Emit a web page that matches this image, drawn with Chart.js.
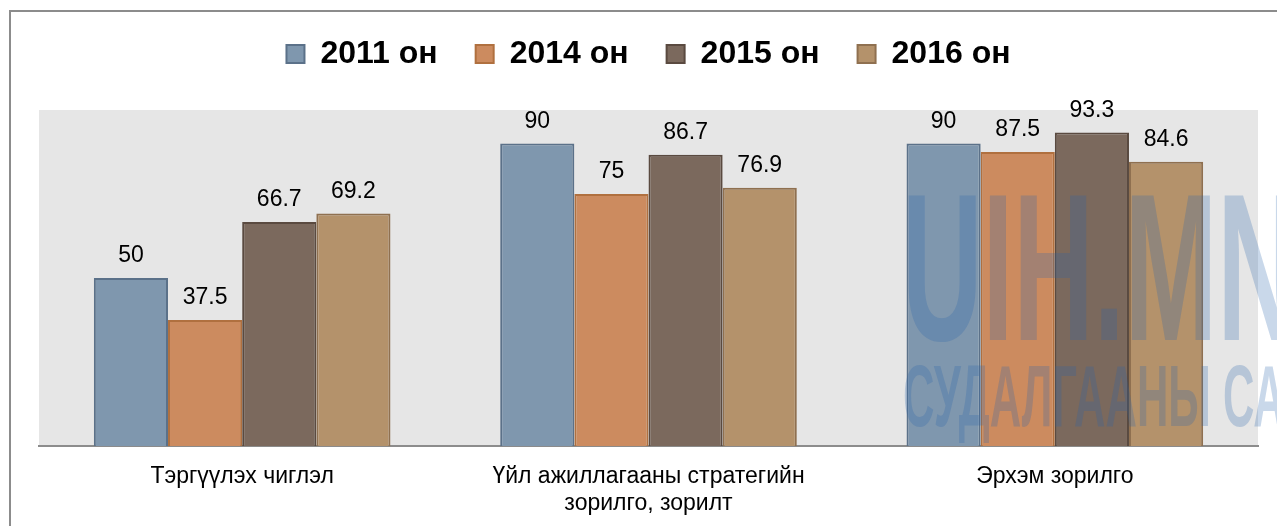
<!DOCTYPE html>
<html>
<head>
<meta charset="utf-8">
<script src="https://cdn.jsdelivr.net/npm/chart.js@4.4.1/dist/chart.umd.min.js"></script>
<style>
  html, body { margin: 0; padding: 0; background: #fff; overflow: hidden; }
  #wrap { position: relative; width: 1277px; height: 526px; }
  #frame { position: absolute; left: 9px; top: 10px; width: 1300px; height: 600px;
    border-left: 2px solid #8c8c8c; border-top: 2px solid #8c8c8c; pointer-events: none; }
  .wm { position: absolute; font-family: 'Liberation Sans', Arial, sans-serif; font-weight: bold;
    color: rgba(40, 100, 170, 0.25); white-space: nowrap; transform-origin: 0 0; line-height: 1; pointer-events: none; }
</style>
</head>
<body>
<div id="wrap">
  <canvas id="chart" width="1277" height="526"></canvas>
  <div id="frame"></div>
  <div class="wm" style="left:902px;top:163px;font-size:210px;transform:scaleX(0.53);">UIH.MN</div>
  <div class="wm" style="left:903px;top:352px;font-size:87px;transform:scaleX(0.5);">СУДАЛГААНЫ СА</div>
</div>
<script>
// ангилал, цуваа, утгууд
var categories = ['Тэргүүлэх чиглэл', ['Үйл ажиллагааны стратегийн', 'зорилго, зорилт'], 'Эрхэм зорилго'];
var seriesNames = ['2011 он', '2014 он', '2015 он', '2016 он'];
var values2011 = [50, 90, 90];
var values2014 = [37.5, 75, 87.5];
var values2015 = [66.7, 86.7, 93.3];
var values2016 = [69.2, 76.9, 84.6];

var fillColors = ['#7f97ae', '#cc8b5f', '#7b695d', '#b4926b'];
var lineColors = ['#5b7189', '#b0703f', '#5a4a40', '#8f7050'];

(function() {
  Chart.defaults.font.family = "'Liberation Sans', Arial, sans-serif";

  var plotBg = {
    id: 'plotBg',
    beforeDraw: function(chart) {
      var a = chart.chartArea, ctx = chart.ctx;
      ctx.save();
      ctx.fillStyle = '#e6e6e6';
      ctx.fillRect(a.left, a.top, a.right - a.left, a.bottom - a.top);
      ctx.restore();
    }
  };

  var valueLabels = {
    id: 'valueLabels',
    afterDatasetsDraw: function(chart) {
      var ctx = chart.ctx;
      ctx.save();
      ctx.font = "23px 'Liberation Sans', Arial, sans-serif";
      ctx.fillStyle = '#000';
      ctx.textAlign = 'center';
      ctx.textBaseline = 'alphabetic';
      chart.data.datasets.forEach(function(ds, i) {
        chart.getDatasetMeta(i).data.forEach(function(bar, j) {
          ctx.fillText(String(ds.data[j]), bar.x, bar.y - 16);
        });
      });
      ctx.restore();
    }
  };

  var allValues = [values2011, values2014, values2015, values2016];
  var datasets = seriesNames.map(function(name, i) {
    return {
      label: name,
      data: allValues[i],
      backgroundColor: fillColors[i],
      borderColor: lineColors[i],
      borderWidth: 2,
      categoryPercentage: 0.73,
      barPercentage: 1
    };
  });

  new Chart(document.getElementById('chart'), {
    type: 'bar',
    data: { labels: categories, datasets: datasets },
    options: {
      responsive: false,
      animation: false,
      layout: { padding: { left: 39, right: 19, top: 0, bottom: -8 } },
      plugins: {
        legend: {
          position: 'top',
          labels: { boxWidth: 18, boxHeight: 18, padding: 38, color: '#000', font: { size: 32, weight: 'bold' } }
        },
        title: { display: true, text: '', weight: 500, padding: { top: 9, bottom: 9 }, font: { size: 10 } },
        tooltip: { enabled: false }
      },
      scales: {
        x: {
          grid: { display: false, drawTicks: false },
          border: { display: true, color: '#8c8c8c', width: 2 },
          ticks: { color: '#000', font: { size: 23, lineHeight: 1.17 }, padding: 17, maxRotation: 0, autoSkip: false }
        },
        y: { display: false, min: 0, max: 100 }
      }
    },
    plugins: [plotBg, valueLabels]
  });
})();
</script>
</body>
</html>
